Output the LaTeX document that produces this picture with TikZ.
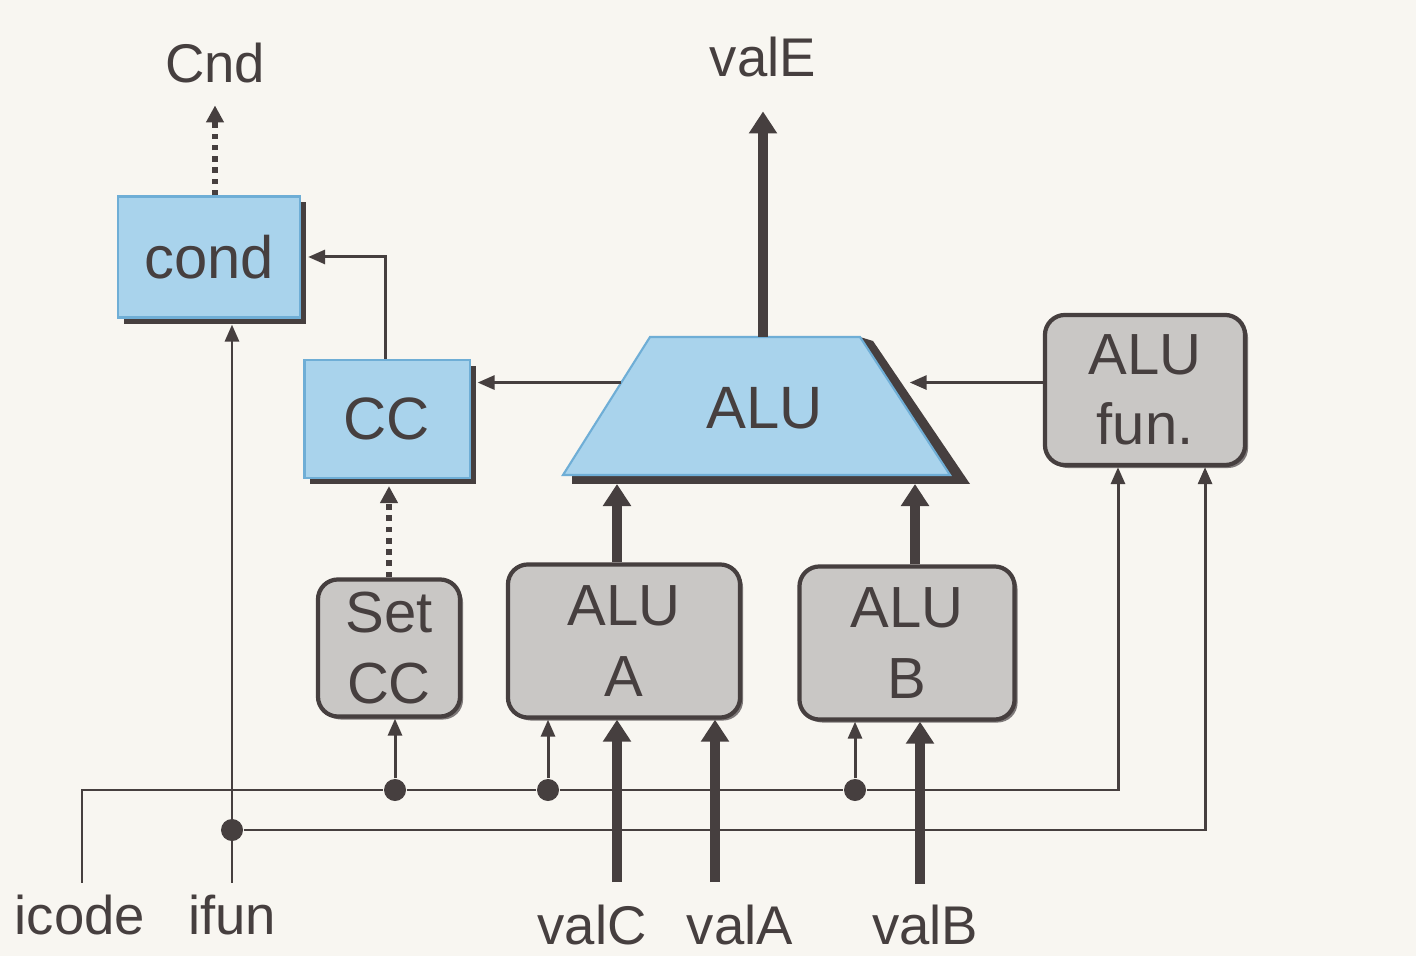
\documentclass[tikz,border=0pt]{standalone}
\usepackage{fontspec}
\setmainfont{Liberation Sans}
\usetikzlibrary{positioning, shadows, arrows.meta, calc}
\definecolor{wire}{HTML}{463F3F}
\definecolor{hwblue}{HTML}{A9D3EC}
\definecolor{hwedge}{HTML}{6FAED6}
\definecolor{hwgray}{HTML}{C9C7C5}
\definecolor{paper}{HTML}{F8F6F1}

\begin{document}
\begin{tikzpicture}[x=0.01cm, y=-0.01cm, text=wire,
 logic/.style={rectangle, draw=hwedge, fill=hwblue, line width=0.6pt, font=\fontsize{17}{20}\selectfont,
   drop shadow={shadow xshift=0.06cm, shadow yshift=-0.06cm, fill=wire, opacity=1}},
 ctrl/.style={rectangle, rounded corners=0.2cm, draw=wire, fill=hwgray, line width=1.2pt, align=center,
   font=\fontsize{16.5}{20}\selectfont,
   drop shadow={shadow xshift=0.03cm, shadow yshift=-0.03cm, fill=wire!70, opacity=1}},
 lbl/.style={font=\fontsize{15.5}{18}\selectfont},
 junction/.style={circle, fill=wire, inner sep=0pt, minimum size=0.22cm},
 wirearrow/.style={draw=wire, line width=0.85pt, -{Triangle[width=0.14cm, length=0.17cm]}},
 bigarrow/.style={draw=wire, line width=2.6pt, -{Triangle[width=0.27cm, length=0.22cm]}},
 ctlarrow/.style={draw=wire, line width=1.6pt, dash pattern=on 1.6pt off 1.6pt, -{Triangle[width=0.17cm, length=0.17cm]}},
 ]

\fill[paper] (0,0) rectangle (1416,956);

% storage and logic blocks
\node[logic, minimum width=1.82cm, minimum height=1.21cm] (cond) at (209,257) {cond};
\node[logic, minimum width=1.65cm, minimum height=1.18cm] (cc) at (387,419) {CC};

% the ALU trapezoid
\coordinate (aluTL) at (650,337);
\coordinate (aluTR) at (860,337);
\coordinate (aluBR) at (950,475);
\coordinate (aluBL) at (563,475);
\fill[wire] (873,341) -- (970,484) -- (572,484) -- (572,475) -- (950,475) -- (860,337) -- cycle;
\filldraw[fill=hwblue, draw=hwedge, line width=0.6pt] (aluTL) -- (aluTR) -- (aluBR) -- (aluBL) -- cycle;
\node[font=\fontsize{17}{20}\selectfont] (alu) at (765,408) {ALU};
\coordinate (aluL) at ($(aluTL)!0.33!(aluBL)$);
\coordinate (aluR) at ($(aluTR)!0.33!(aluBR)$);

\node[ctrl, minimum width=2.0cm, minimum height=1.5cm] (alufun) at (1145,390) {ALU\\fun.};
\node[ctrl, minimum width=1.42cm, minimum height=1.37cm] (setcc) at (389,648) {Set\\CC};
\node[ctrl, minimum width=2.32cm, minimum height=1.53cm] (alua) at (624,641) {ALU\\A};
\node[ctrl, minimum width=2.15cm, minimum height=1.53cm] (alub) at (907,643) {ALU\\B};

% signal names
\node[lbl] (cnd)   at (215,63)  {Cnd};
\node[lbl] (vale)  at (763,57)  {valE};
\node[lbl] (icode) at (80,915)  {icode};
\node[lbl] (ifun)  at (232,915) {ifun};
\node[lbl] (valc)  at (592,925) {valC};
\node[lbl] (vala)  at (740,925) {valA};
\node[lbl] (valb)  at (925,925) {valB};

\coordinate (valCin) at (617,882);
\coordinate (valAin) at (715,882);
\coordinate (valBin) at (920,884);

\node[junction] (dotSet) at (395,790) {};
\node[junction] (dotA)   at (548,790) {};
\node[junction] (dotB)   at (855,790) {};
\node[junction] (dotFun) at (232,830) {};

% data paths
\draw[bigarrow, line width=3pt] (vale |- aluTL) -- ([yshift=-0.22cm]vale.south);
\draw[bigarrow] ([xshift=-0.07cm]alua.north) -- ([xshift=-0.07cm,yshift=-0.09cm]alua.north |- aluBL);
\draw[bigarrow] ([xshift=0.08cm]alub.north) -- ([xshift=0.08cm,yshift=-0.09cm]alub.north |- aluBL);
\draw[bigarrow] (valCin) -- (valCin |- alua.south);
\draw[bigarrow] (valAin) -- (valAin |- alua.south);
\draw[bigarrow] (valBin) -- (valBin |- alub.south);

% control paths
\draw[ctlarrow] (cond.north -| cnd) -- ([yshift=-0.1cm]cnd.south);
\draw[ctlarrow] (setcc.north) -- ([yshift=-0.07cm]setcc.north |- cc.south);
\draw[wirearrow] ([xshift=-0.02cm]cc.north) |- ([xshift=0.07cm]cond.east);
\draw[wirearrow] (aluL) -- ([xshift=0.07cm]aluL -| cc.east);
\draw[wirearrow] (aluR -| alufun.west) -- ([xshift=0.2cm]aluR);

\draw[draw=wire, line width=0.85pt] ([xshift=0.02cm]icode.north) |- (dotSet) -- (dotA) -- (dotB);
\draw[wirearrow] (dotB) -| ([xshift=-0.27cm]alufun.south);
\draw[wirearrow] (dotSet) -- (dotSet |- setcc.south);
\draw[wirearrow] (dotA) -- (dotA |- alua.south);
\draw[wirearrow] (dotB) -- (dotB |- alub.south);

\draw[wirearrow] (ifun.north) -- ([yshift=-0.06cm]ifun.north |- cond.south);
\draw[wirearrow] (dotFun) -| ([xshift=0.6cm]alufun.south);

\end{tikzpicture}
\end{document}
